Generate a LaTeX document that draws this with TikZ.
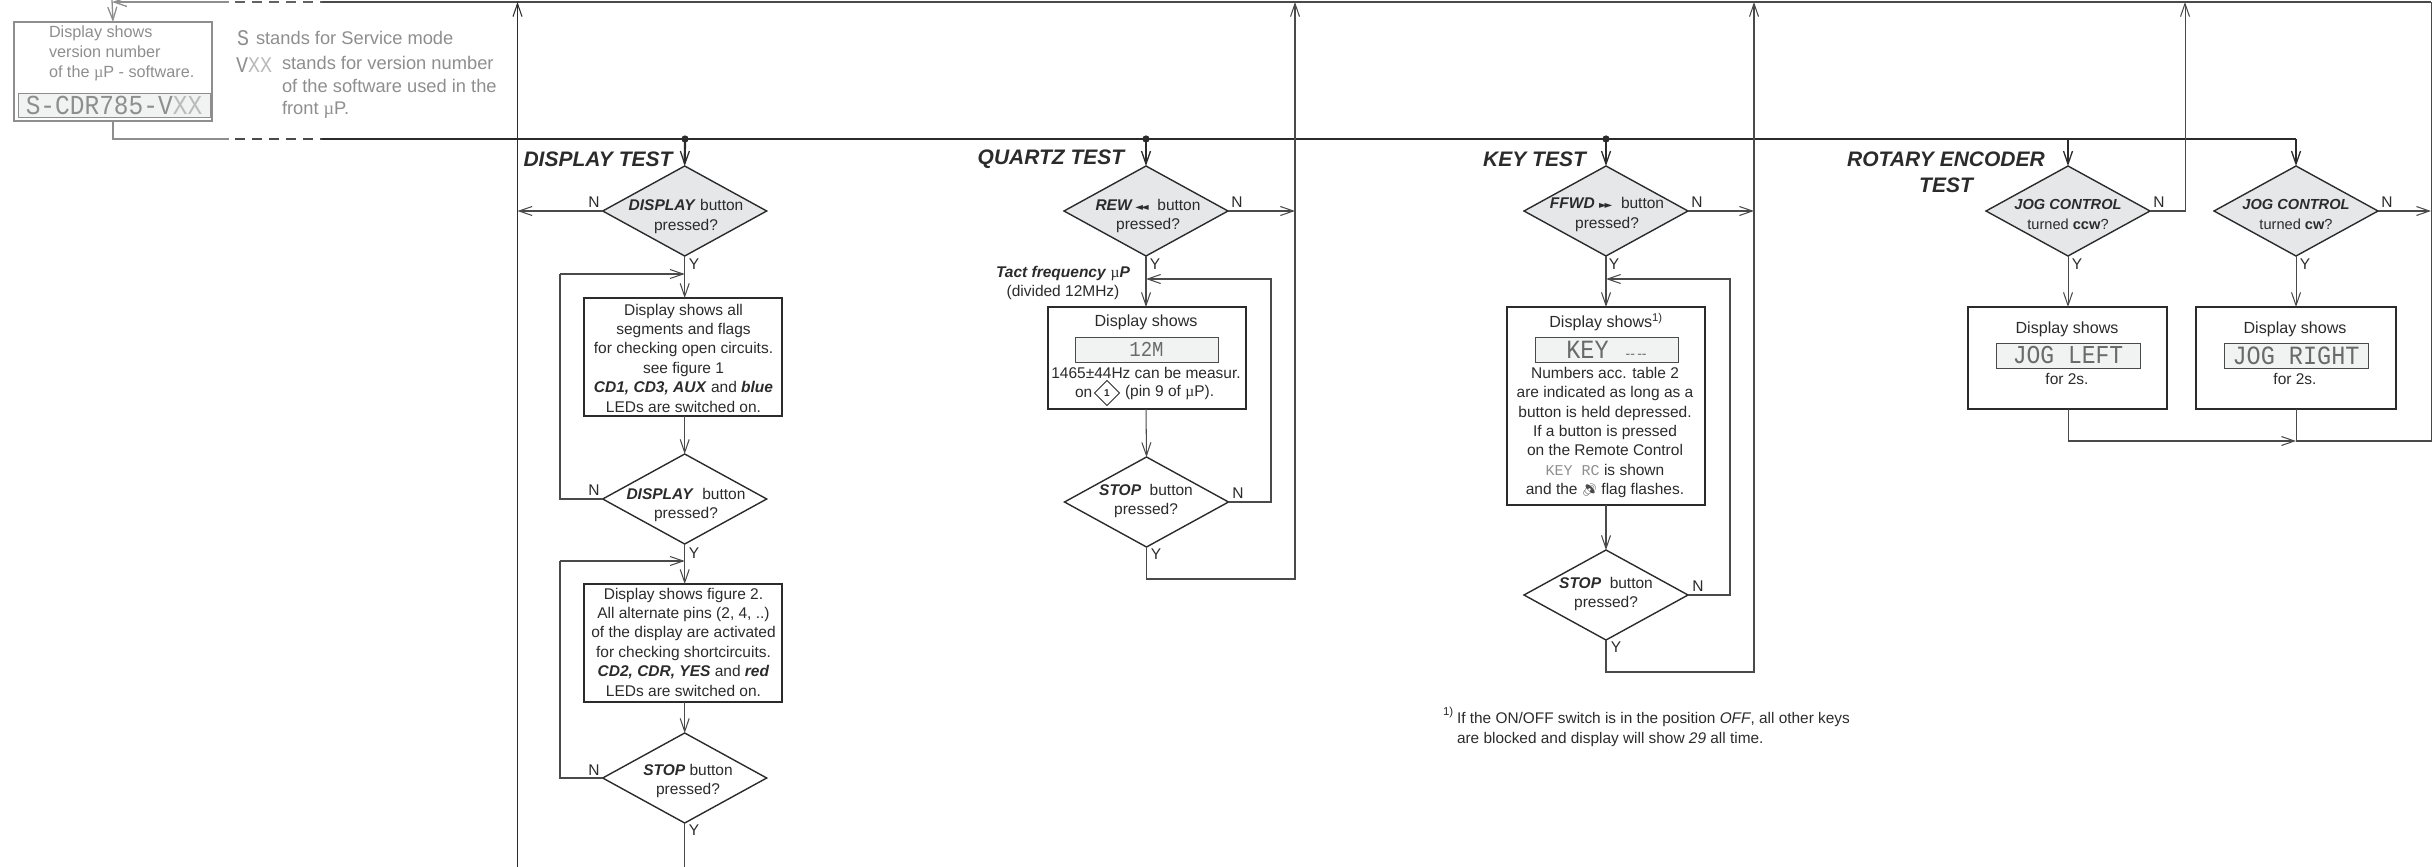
\documentclass[tikz,border=0pt]{standalone}
\usepackage{fontspec}
\setmainfont{Liberation Sans}
\newfontfamily\lcdf{Liberation Mono}
\newfontfamily\serf{Liberation Serif}
\newfontfamily\symf{DejaVu Sans}
\newfontfamily\emof{Noto Emoji}
\usetikzlibrary{arrows.meta,shapes.geometric}
\definecolor{ink}{HTML}{2B2B2B}
\definecolor{dgrey}{HTML}{4A4A4A}
\definecolor{lgrey}{HTML}{8E8E8E}
\definecolor{lcdt}{HTML}{6A6A6A}
\definecolor{dfill}{HTML}{E6E7E8}
\definecolor{lcdfill}{HTML}{F1F2F2}
\newcommand{\bi}[1]{\textbf{\textit{#1}}}
\newcommand{\mup}{{\serf µ}}
\newcommand{\lcd}[2]{\scalebox{1}[1.12]{\fontsize{#1}{#1}\lcdf #2}}
\tikzset{
  x=1pt,y=-1pt,
  tipbarb/.tip={Straight Barb[length=13pt,width=9pt]},
  body/.style={font=\fontsize{15.5}{19.4}\selectfont,text=ink,align=center,inner sep=0pt,outer sep=0pt},
  shows/.style={body,font=\fontsize{16.1}{19.4}\selectfont},
  jogt/.style={body,font=\fontsize{14.6}{20.5}\selectfont},
  dia/.style={diamond,draw=ink,line width=1.4pt,minimum width=164pt,minimum height=90pt,inner sep=0pt,outer sep=0pt},
  diag/.style={dia,fill=dfill},
  bigbox/.style={rectangle,draw=ink,line width=2.4pt,inner sep=0pt,outer sep=0pt},
  lcdbox/.style={rectangle,draw=dgrey,fill=lcdfill,line width=1pt,inner sep=0pt,outer sep=0pt,text=lcdt,minimum width=143pt,minimum height=25pt},
  lab/.style={font=\fontsize{15.5}{18}\selectfont,text=ink,inner sep=0pt,outer sep=0pt},
  ttl/.style={font=\fontsize{21}{26}\selectfont\bfseries\itshape,text=ink,inner sep=0pt,outer sep=0pt,align=center},
  line/.style={draw=dgrey,line width=1.05pt},
  arr/.style={line,-tipbarb},
  main/.style={draw=ink,line width=2.2pt},
  mainarr/.style={draw=ink,line width=2.2pt,-{Straight Barb[length=13pt,width=9pt,line width=1.3pt]}},
  gtxt/.style={font=\fontsize{16.2}{20}\selectfont,text=lgrey,inner sep=0pt,outer sep=0pt,align=left,anchor=west},
  foot/.style={font=\fontsize{15.4}{20}\selectfont,text=ink,inner sep=0pt,outer sep=0pt,anchor=west,align=left}
}
\begin{document}
\begin{tikzpicture}
\useasboundingbox (0,0) rectangle (2433,867);
% ---------- coordinates of the junctions
\coordinate (mainA) at (112,139);
\coordinate (mainB) at (229,139);
\coordinate (mainC) at (322,139);
\coordinate (topA) at (112,2);
\coordinate (topB) at (229,2);
\coordinate (topC) at (322,2);
\coordinate (top0) at (112,0);
\coordinate (dotD) at (685,139);
\coordinate (dotQ) at (1146,139);
\coordinate (dotK) at (1606,139);
\coordinate (busR1) at (2068,139);
\coordinate (busR2) at (2296,139);
\coordinate (busE) at (517.5,867);
\coordinate (busEt) at (517.5,2);
\coordinate (busEn) at (517.5,211);
\coordinate (busQt) at (1295,2);
\coordinate (busQn) at (1295,211);
\coordinate (busQb) at (1295,579);
\coordinate (busKt) at (1754,2);
\coordinate (busKn) at (1754,211);
\coordinate (busKb) at (1754,672);
\coordinate (busRt) at (2431,2);
\coordinate (busRn) at (2431,211);
\coordinate (busRb) at (2431,441);

% ---------- grey start block
\node[rectangle,draw=lgrey,line width=2.4pt,minimum width=198pt,minimum height=99pt,inner sep=0pt,outer sep=0pt] (start) at (113,71.5) {};
\node[gtxt] (startT) at (49,53) {Display shows\\version number\\of the \mup P - software.};
\node[lcdbox,draw=lgrey,text=lgrey,minimum width=192pt,minimum height=24pt] (startL) at (114,105) {\lcd{24.5}{S-CDR785-V\textcolor{lgrey!60}{XX}}};
\node[gtxt] (sS) at (237,38) {\lcd{20}{S}};
\node[gtxt,font=\fontsize{18.3}{22}\selectfont] (sSt) at (256,38) {stands for Service mode};
\node[gtxt] (sV) at (236,65) {\lcd{20}{V\textcolor{lgrey!60}{XX}}};
\node[gtxt,font=\fontsize{18.3}{22.6}\selectfont] (sVt) at (282,87.5) {stands for version number\\of the software used in the\\front \mup P.};

% ---------- grey lead in lines
\draw[draw=lgrey,line width=1.3pt,-tipbarb] (top0) -- (start.north);
\draw[draw=lgrey,line width=1.3pt,-tipbarb] (topB) -- (topA);
\draw[draw=lgrey,line width=1.6pt] (start.south) |- (mainB);
\draw[draw=lgrey!70!black,line width=1.6pt,dash pattern=on 10pt off 7pt] (topB)++(6,0) -- (topC);
\draw[draw=dgrey,line width=2pt,dash pattern=on 10pt off 7pt] (mainB)++(6,0) -- (mainC);

% ---------- buses
\draw[main] (mainC) -- (busR2);
\draw[draw=dgrey,line width=1.3pt] (topC) -- (busRt);
\draw[arr,draw=ink] (busE) -- (busEt);

% ---------- DISPLAY TEST
\node[ttl] (tD) at (598,159) {DISPLAY TEST};
\node[diag] (d1) at (684.7,211) {};
\node[body] (d1t) at (686,216.5) {\bi{DISPLAY} button\\pressed?};
\node[bigbox,minimum width=198pt,minimum height=118pt] (b1) at (683,357)
 {}; 
\node[body] (b1t) at (683.5,358) {Display shows all\\segments and flags\\for checking open circuits.\\see figure 1\\\bi{CD1, CD3, AUX} and \bi{blue}\\LEDs are switched on.};
\node[dia] (d2) at (684.7,499) {};
\node[body] (d2t) at (686,505) {\bi{DISPLAY}\ \ button\\pressed?};
\node[bigbox,minimum width=198pt,minimum height=118pt] (b2) at (683,643) {};
\node[body] (b2t) at (683.5,642) {Display shows figure 2.\\All alternate pins (2, 4, ..)\\of the display are activated\\for checking shortcircuits.\\\bi{CD2, CDR, YES} and \bi{red}\\LEDs are switched on.};
\node[dia] (d3) at (684.7,778) {};
\node[body] (d3t) at (688,781) {\bi{STOP} button\\pressed?};
\coordinate (m1) at (684.7,274);
\coordinate (m2) at (684.7,561);
\coordinate (l1) at (560,274);
\coordinate (l2) at (560,561);
\coordinate (d3out) at (684.7,867);
\fill[ink] (dotD) circle (3.6pt);
\draw[mainarr] (dotD) -- (d1.north);
\draw[arr] (d1.west) -- (busEn);
\draw[arr] (d1.south) -- (d1.south |- b1.north);
\draw[arr] (l1) -- (m1);
\draw[arr] (b1.south -| d1.south) -- (d2.north);
\draw[line] (d2.west) -| (l1);
\draw[arr] (d2.south) -- (d2.south |- b2.north);
\draw[arr] (l2) -- (m2);
\draw[arr] (b2.south -| d2.south) -- (d3.north);
\draw[line] (d3.west) -| (l2);
\draw[line] (d3.south) -- (d3out);
\node[lab] (nd1) at (594,202) {N};
\node[lab] (yd1) at (694,264) {Y};
\node[lab] (nd2) at (594,490) {N};
\node[lab] (yd2) at (694,553) {Y};
\node[lab] (nd3) at (594,770) {N};
\node[lab] (yd3) at (694,830) {Y};

% ---------- QUARTZ TEST
\node[ttl] (tQ) at (1051,159) {QUARTZ TEST};
\node[diag] (q1) at (1146,211) {};
\node[body] (q1t) at (1148,216) {\bi{REW}\,{\symf\fontsize{10}{10}\selectfont ◄\hspace{-2pt}◄}\ \ button\\pressed?};
\node[body] (qTact) at (1063,283) {\bi{Tact frequency} \mup\bi{P}\\(divided 12MHz)};
\node[bigbox,minimum width=198pt,minimum height=102pt] (q2) at (1147,358) {};
\node[shows] (q2a) at (1146,322) {Display shows};
\node[lcdbox] (q2l) at (1146.5,349.5) {\lcd{19}{12M}};
\node[body] (q2b) at (1146,373) {1465±44Hz can be measur.};
\node[body,anchor=west] (q2c) at (1075,393) {on};
\node[diamond,draw=ink,line width=1pt,minimum width=25pt,minimum height=25pt,inner sep=0pt,outer sep=0pt,font=\fontsize{10}{10}\selectfont\bfseries,text=ink] (q2d) at (1107,393) {1};
\node[body,anchor=west] (q2e) at (1125,393) {(pin 9 of \mup P).};
\node[dia] (q3) at (1146.5,502) {};
\node[body] (q3t) at (1146,501) {\bi{STOP}\ \ button\\pressed?};
\coordinate (qm) at (1146,279);
\coordinate (qr) at (1271,279);
\coordinate (qbot) at (1146,579);
\fill[ink] (dotQ) circle (3.6pt);
\draw[mainarr] (dotQ) -- (q1.north);
\draw[arr] (q1.east) -- (busQn);
\draw[arr] (q1.south) -- (q1.south |- q2.north);
\draw[arr] (q2.south -| q1.south) -- (q3.north);
\draw[arr] (q3.east) -| (qr) -- (qm);
\draw[arr] (q3.south) |- (qbot) -- (busQb) -- (busQt);
\node[lab] (nq1) at (1237,202) {N};
\node[lab] (yq1) at (1155,264) {Y};
\node[lab] (nq3) at (1238,493) {N};
\node[lab] (yq3) at (1156,554) {Y};

% ---------- KEY TEST
\node[ttl] (tK) at (1534.5,159) {KEY TEST};
\node[diag] (k1) at (1606,211) {};
\node[body] (k1t) at (1607,214.5) {\bi{FFWD}\ {\symf\fontsize{10}{10}\selectfont ►\hspace{-2pt}►}\ \ button\\pressed?};
\node[bigbox,minimum width=198pt,minimum height=198pt] (k2) at (1606,406) {};
\node[shows] (k2a) at (1606,322) {Display shows\textsuperscript{1)}};
\node[lcdbox] (k2l) at (1606.5,349.5) {\lcd{23.5}{KEY}\hspace{17pt}{\fontsize{14}{14}\selectfont {-}{-}\,{-}{-}}};
\node[body] (k2b) at (1605,432.5) {Numbers acc. table 2\\are indicated as long as a\\button is held depressed.\\If a button is pressed\\on the Remote Control\\{\color{lgrey}\lcdf\fontsize{15}{15}\selectfont KEY RC} is shown\\and the {\color{dgrey}\emof\fontsize{12}{12}\selectfont 🔊} flag flashes.};
\node[dia] (k3) at (1606,595) {};
\node[body] (k3t) at (1606,594) {\bi{STOP}\ \ button\\pressed?};
\coordinate (km) at (1606,279);
\coordinate (kr) at (1730,279);
\coordinate (kbot) at (1606,672);
\fill[ink] (dotK) circle (3.6pt);
\draw[mainarr] (dotK) -- (k1.north);
\draw[arr] (k1.east) -- (busKn);
\draw[arr] (k1.south) -- (k1.south |- k2.north);
\draw[arr] (k2.south) -- (k3.north);
\draw[arr] (k3.east) -| (kr) -- (km);
\draw[arr] (k3.south) |- (kbot) -- (busKb) -- (busKt);
\node[lab] (nk1) at (1697,202) {N};
\node[lab] (yk1) at (1614,264) {Y};
\node[lab] (nk3) at (1698,586) {N};
\node[lab] (yk3) at (1616,647) {Y};
\node[foot,font=\fontsize{11.5}{12}\selectfont] (f0) at (1443,713) {1)};
\node[foot] (f1) at (1457,730) {If the ON/OFF switch is in the position \textit{OFF}, all other keys\\are blocked and display will show \textit{29} all time.};

% ---------- ROTARY ENCODER TEST
\node[ttl] (tR) at (1946,172) {ROTARY ENCODER\\TEST};
\node[diag] (r1) at (2068,211) {};
\node[jogt] (r1t) at (2068,214.5) {\bi{JOG CONTROL}\\turned \textbf{ccw}?};
\node[diag] (r2) at (2296,211) {};
\node[jogt] (r2t) at (2296,214.5) {\bi{JOG CONTROL}\\turned \textbf{cw}?};
\node[bigbox,minimum width=199pt,minimum height=102pt] (r1b) at (2067.5,358) {};
\node[bigbox,minimum width=200pt,minimum height=102pt] (r2b) at (2296,358) {};
\node[shows] (r1a) at (2067,329) {Display shows};
\node[shows] (r2a) at (2295,329) {Display shows};
\node[lcdbox,minimum width=144pt] (r1l) at (2068,355.5) {\lcd{23}{JOG LEFT}};
\node[lcdbox,minimum width=144pt] (r2l) at (2296,355.5) {\lcd{23.5}{JOG RIGHT}};
\node[body] (r1c) at (2067,379) {for 2s.};
\node[body] (r2c) at (2295,379) {for 2s.};
\coordinate (r1up) at (2185,211);
\coordinate (r1top) at (2185,2);
\coordinate (r1d) at (2068,441);
\coordinate (r2d) at (2296,441);
\draw[mainarr] (busR1) -- (r1.north);
\draw[mainarr] (busR2) -- (r2.north);
\draw[arr] (r1.east) -- (r1up) -- (r1top);
\draw[arr] (r2.east) -- (busRn);
\draw[arr] (r1.south) -- (r1.south |- r1b.north);
\draw[arr] (r2.south) -- (r2.south |- r2b.north);
\draw[arr] (r1d |- r1b.south) -- (r1d) -- (r2d);
\draw[line] (r2d |- r2b.south) -- (r2d) -- (busRb) -- (busRt);
\node[lab] (nr1) at (2159,202) {N};
\node[lab] (yr1) at (2077,264) {Y};
\node[lab] (nr2) at (2387,202) {N};
\node[lab] (yr2) at (2305,264) {Y};
\end{tikzpicture}
\end{document}
